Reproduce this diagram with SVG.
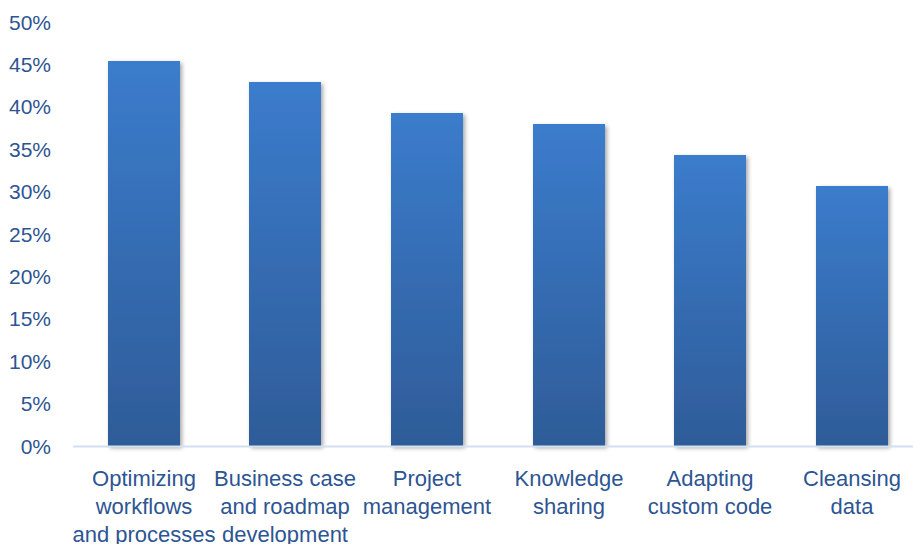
<svg xmlns="http://www.w3.org/2000/svg" width="913" height="544" viewBox="0 0 913 544">
<style>
.tick{font-family:"Liberation Sans",Arial,sans-serif;font-size:21px;fill:#2D5592;text-anchor:end}
.cat{font-family:"Liberation Sans",Arial,sans-serif;font-size:22px;fill:#2D5592;text-anchor:middle}
.bar{fill:url(#g);filter:url(#sh)}
</style>
<defs>
<linearGradient id="g" x1="0" y1="0" x2="0" y2="1" gradientUnits="objectBoundingBox">
<stop offset="0" stop-color="#3B7CCC"/>
<stop offset="1" stop-color="#2E5C98"/>
</linearGradient>
<filter id="sh" x="-20%" y="-10%" width="150%" height="130%">
<feDropShadow dx="2" dy="2" stdDeviation="2" flood-color="#000" flood-opacity="0.35"/>
</filter>
</defs>
<rect width="913" height="544" fill="#fff"/>
<g id="yaxis">
<text class="tick" x="51" y="29.5">50%</text>
<text class="tick" x="51" y="71.9">45%</text>
<text class="tick" x="51" y="114.3">40%</text>
<text class="tick" x="51" y="156.7">35%</text>
<text class="tick" x="51" y="199.1">30%</text>
<text class="tick" x="51" y="241.5">25%</text>
<text class="tick" x="51" y="283.9">20%</text>
<text class="tick" x="51" y="326.3">15%</text>
<text class="tick" x="51" y="368.7">10%</text>
<text class="tick" x="51" y="411.1">5%</text>
<text class="tick" x="51" y="453.5">0%</text>
</g>
<g id="bars">
<rect id="bar1" class="bar" x="108" y="61" width="72" height="385"/>
<rect id="bar2" class="bar" x="249" y="82" width="72" height="364"/>
<rect id="bar3" class="bar" x="391" y="113" width="72" height="333"/>
<rect id="bar4" class="bar" x="533" y="124" width="72" height="322"/>
<rect id="bar5" class="bar" x="674" y="155" width="72" height="291"/>
<rect id="bar6" class="bar" x="816" y="186" width="72" height="260"/>
</g>
<g id="axis">
<line x1="73" y1="446.5" x2="913" y2="446.5" stroke="#D3E0F0" stroke-width="2"/>
</g>
<g id="labels">
<text class="cat" x="144" y="486">Optimizing</text>
<text class="cat" x="144" y="514">workflows</text>
<text class="cat" x="144" y="542">and processes</text>
<text class="cat" x="285" y="486">Business case</text>
<text class="cat" x="285" y="514">and roadmap</text>
<text class="cat" x="285" y="542">development</text>
<text class="cat" x="427" y="486">Project</text>
<text class="cat" x="427" y="514">management</text>
<text class="cat" x="569" y="486">Knowledge</text>
<text class="cat" x="569" y="514">sharing</text>
<text class="cat" x="710" y="486">Adapting</text>
<text class="cat" x="710" y="514">custom code</text>
<text class="cat" x="852" y="486">Cleansing</text>
<text class="cat" x="852" y="514">data</text>
</g>
</svg>
